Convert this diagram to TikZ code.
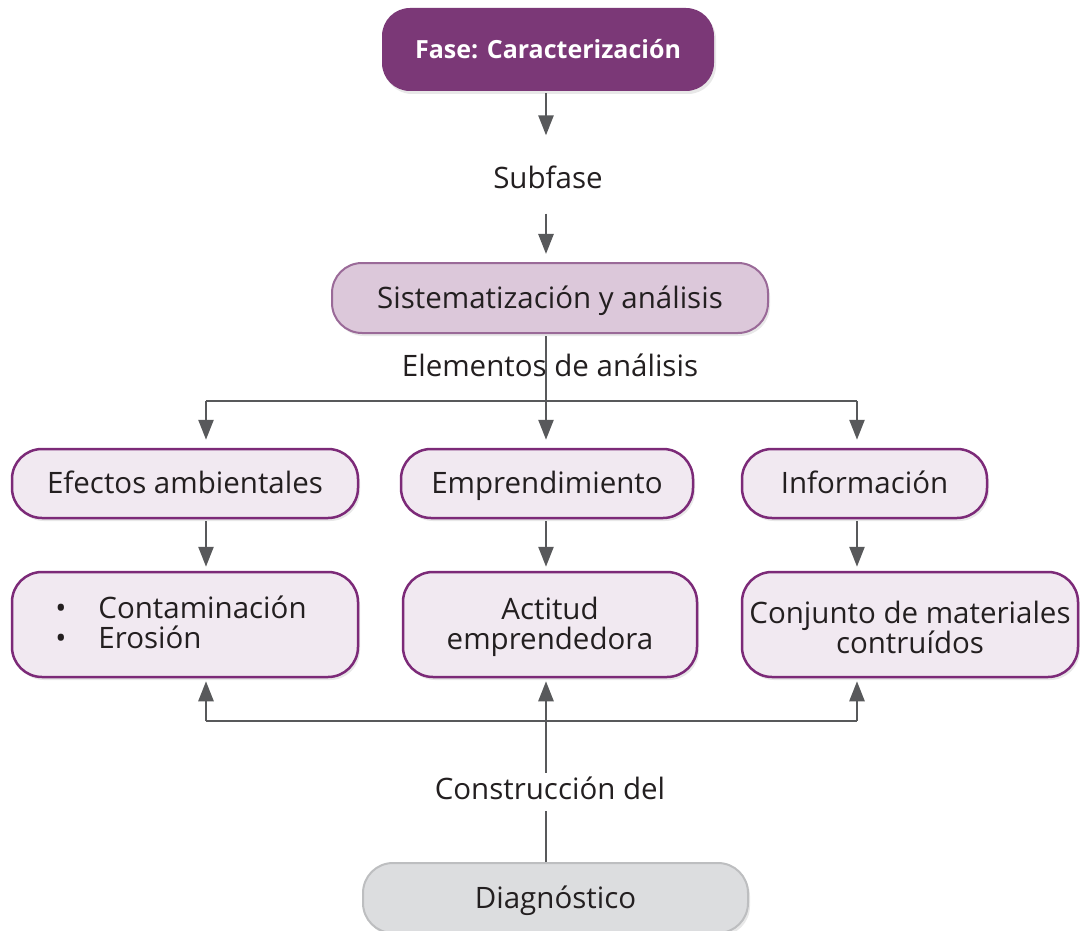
\documentclass[tikz,border=0pt]{standalone}
\usepackage{fontspec}
\setmainfont{Open Sans}
\usetikzlibrary{arrows.meta,shadows}
\definecolor{dpurple}{HTML}{7B3877}
\definecolor{mpurple}{HTML}{DCC8DA}
\definecolor{mborder}{HTML}{9A6A98}
\definecolor{lpurple}{HTML}{F1E9F1}
\definecolor{lborder}{HTML}{7C2A78}
\definecolor{lgray}{HTML}{DCDDDF}
\definecolor{gborder}{HTML}{BDBEC0}
\definecolor{linec}{HTML}{58595B}
\definecolor{txt}{HTML}{231F20}
\begin{document}
\begin{tikzpicture}[x=1pt,y=-1pt,
  basebox/.style={rounded corners=30pt, inner sep=0pt, align=center,
    font=\fontsize{29.5}{32}\selectfont, text=txt,
    drop shadow={opacity=0.18, shadow xshift=2pt, shadow yshift=-3pt}},
  oneline/.style={text height=20pt, text depth=0pt},
  lightbox/.style={basebox, draw=lborder, fill=lpurple, line width=2.5pt},
  lbl/.style={inner sep=0pt, font=\fontsize{29.5}{32}\selectfont, text=txt},
  ln/.style={draw=linec, line width=2.5pt},
  arr/.style={ln, -{Triangle[length=20pt,width=15pt]}}
]
\useasboundingbox (0,0) rectangle (1080,931);

% columns and rails
\coordinate (cL) at (206,0);
\coordinate (cM) at (546,0);
\coordinate (cR) at (857,0);
\coordinate (hTop) at (0,401);
\coordinate (hBot) at (0,721);

% top
\node[basebox, oneline, fill=dpurple, text=white, rounded corners=28pt,
      minimum width=332pt, minimum height=83pt, text height=18pt,
      font=\fontsize{25}{30}\selectfont\bfseries] (fase) at (548,49.5) {Fase: Caracterización};
\node[lbl] (subfase) at (548,177) {Subfase};
\node[basebox, oneline, draw=mborder, fill=mpurple, line width=2pt,
      minimum width=436pt, minimum height=70pt] (sist) at (550,298) {Sistematización y análisis};

% row 1
\node[lightbox, oneline, minimum width=346pt, minimum height=69pt] (efe) at (185,483.5) {Efectos ambientales};
\node[lightbox, oneline, minimum width=292pt, minimum height=69pt] (emp) at (547,483.5) {Emprendimiento};
\node[lightbox, oneline, minimum width=245pt, minimum height=69pt] (inf) at (864.5,483.5) {Información};

% row 2
\node[lightbox, minimum width=346pt, minimum height=105pt] (cont) at (185,624.5)
  {\begin{tabular}{@{}l@{\hspace{32pt}}l@{\hspace{8pt}}}\rule{0pt}{28pt}•&Contaminación\\[-2pt]•&Erosión\end{tabular}};
\node[lightbox, minimum width=294pt, minimum height=105pt] (act) at (550,624.5)
  {\rule{0pt}{28pt}Actitud\\[-2pt]emprendedora};
\node[lightbox, minimum width=336pt, minimum height=105pt] (conj) at (910,624.5)
  {\rule{0pt}{28pt}Conjunto de materiales\\[-2pt]contruídos};

% bottom
\node[lbl, text height=21pt, text depth=7pt, inner ysep=5pt] (constr) at (550,792) {Construcción del};
\node[basebox, oneline, draw=gborder, fill=lgray, line width=2pt,
      minimum width=385pt, minimum height=70pt] (diag) at (555.5,898) {Diagnóstico};

% connectors top
\draw[arr, shorten <=2pt, shorten >=30pt] (fase.south -| cM) -- (subfase.north -| cM);
\draw[arr, shorten <=25pt, shorten >=8pt] (subfase.south -| cM) -- (sist.north -| cM);

% Elementos de análisis
\draw[arr, shorten <=2pt, shorten >=8pt] (sist.south -| cM) -- (emp.north -| cM);
\node[lbl] (elem) at (550,365) {Elementos de análisis};
\draw[ln] (cL|-hTop) -- (cR|-hTop);
\draw[arr, shorten >=8pt] (cL|-hTop) -- (efe.north -| cL);
\draw[arr, shorten >=8pt] (cR|-hTop) -- (inf.north -| cR);

% row1 -> row2
\draw[arr, shorten <=2pt, shorten >=4pt] (efe.south -| cL) -- (cont.north -| cL);
\draw[arr, shorten <=2pt, shorten >=4pt] (emp.south -| cM) -- (act.north -| cM);
\draw[arr, shorten <=2pt, shorten >=4pt] (inf.south -| cR) -- (conj.north -| cR);

% bottom connectors
\draw[ln] (cL|-hBot) -- (cR|-hBot);
\draw[arr, shorten >=3pt] (cL|-hBot) -- (cont.south -| cL);
\draw[arr, shorten >=3pt] (cR|-hBot) -- (conj.south -| cR);
\draw[arr, shorten >=3pt] (constr.north -| cM) -- (act.south -| cM);
\draw[ln] (diag.north -| cM) -- (constr.south -| cM);
\end{tikzpicture}
\end{document}
